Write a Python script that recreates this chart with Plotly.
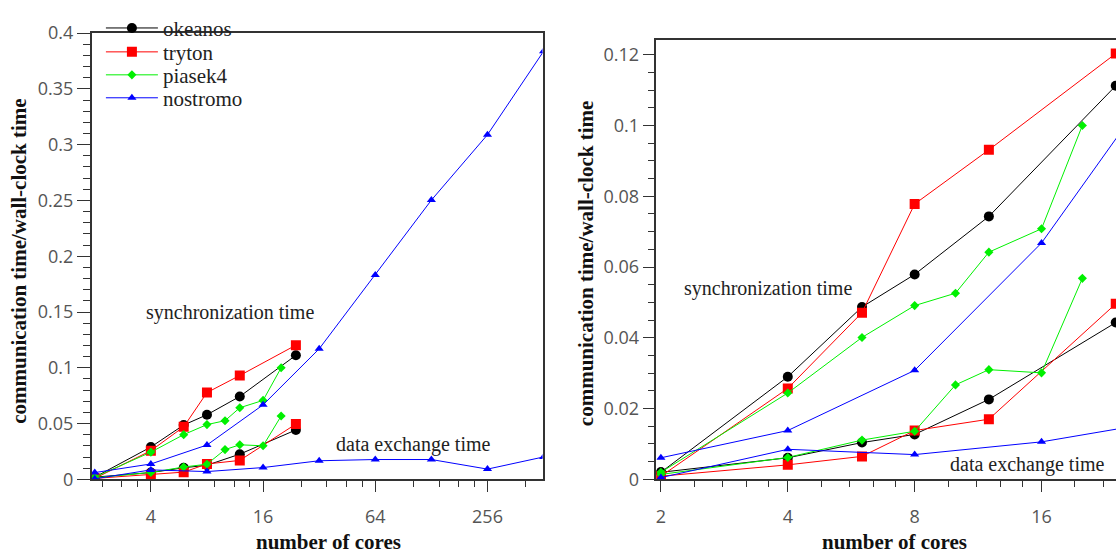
import math
import plotly.graph_objects as go

# ---- measured data: communication time / wall-clock time ----
okeanos_cores = [2, 4, 6, 8, 12, 24]
okeanos_sync = [0.0020, 0.0290, 0.0487, 0.0579, 0.0743, 0.1112]
okeanos_exch = [0.0020, 0.0061, 0.0104, 0.0127, 0.0226, 0.0443]

tryton_cores = [2, 4, 6, 8, 12, 24]
tryton_sync = [0.0009, 0.0257, 0.0471, 0.0778, 0.0931, 0.1203]
tryton_exch = [0.0009, 0.0041, 0.0065, 0.0138, 0.0170, 0.0496]

piasek4_cores = [2, 4, 6, 8, 10, 12, 16, 20]
piasek4_sync = [0.0020, 0.0244, 0.0401, 0.0491, 0.0526, 0.0642, 0.0708, 0.1000]
piasek4_exch = [0.0014, 0.0062, 0.0111, 0.0136, 0.0267, 0.0310, 0.0301, 0.0568]

nostromo_cores = [2, 4, 8, 16, 32, 64, 128, 256, 512]
nostromo_sync = [0.0061, 0.0138, 0.0308, 0.0668, 0.1170, 0.1831, 0.2503, 0.3089, 0.3837]
nostromo_exch = [0.0005, 0.0085, 0.0070, 0.0106, 0.0167, 0.0178, 0.0178, 0.0092, 0.0201]

left_xticks = [4, 16, 64, 256]
right_xticks = [2, 4, 8, 16]

machines = [
    ("okeanos", okeanos_cores, okeanos_sync, okeanos_exch, "#000000", "circle", 10),
    ("tryton", tryton_cores, tryton_sync, tryton_exch, "#ff0000", "square", 10),
    ("piasek4", piasek4_cores, piasek4_sync, piasek4_exch, "#00f000", "diamond", 7),
    ("nostromo", nostromo_cores, nostromo_sync, nostromo_exch, "#0000ff", "triangle-up", 8),
]

W, H = 1116, 554
SERIF = "Liberation Serif"
SANS = "Open Sans"


def px_x(p):
    return p / W


def px_y(p):
    return 1 - p / H


def minor_vals(majors, lo, hi):
    # five linear sub-steps between consecutive major ticks
    vals = []
    for a, b in zip(majors[:-1], majors[1:]):
        step = (b - a) / 5
        vals += [a + step * k for k in range(1, 5)]
    return [v for v in vals if lo < v < hi]


fig = go.Figure()

legend_names = ["legend", "legend2", "legend3", "legend4"]
for i, (name, cores, sync, exch, color, symbol, size) in enumerate(machines):
    for xa, ya in (("x", "y"), ("x2", "y2")):
        for k, vals in enumerate((sync, exch)):
            fig.add_trace(go.Scatter(
                x=cores, y=vals, xaxis=xa, yaxis=ya,
                mode="lines+markers", name=name,
                line=dict(color=color, width=1),
                marker=dict(symbol=symbol, size=size, color=color),
                showlegend=(xa == "x" and k == 0),
                legend=legend_names[i],
            ))

# axis ranges (log2 based, expressed in log10 for plotly)
l2 = math.log10(2)
left_range = [0.944 * l2, 8.981 * l2]
right_range = [0.9646 * l2, 4.587 * l2]

minor_style = dict(ticks="outside", tickcolor="#333333", tickwidth=1.2)
axis_common = dict(
    showgrid=False, zeroline=False, showline=True,
    linecolor="#333333", linewidth=1.5,
    ticks="outside", tickcolor="#333333", tickwidth=1.2,
    tickfont=dict(family=SANS, size=18, color="#555555"),
)

fig.update_layout(
    width=W, height=H,
    margin=dict(l=0, r=0, t=0, b=0),
    paper_bgcolor="white", plot_bgcolor="white",
    font=dict(family=SERIF, size=21, color="#222222"),
    xaxis=dict(
        domain=[px_x(90.7), px_x(542)], anchor="y", type="log",
        range=left_range, tickmode="array", tickvals=left_xticks,
        ticktext=[str(v) for v in left_xticks], ticklen=11, mirror=True,
        ticklabelstandoff=9,
        minor=dict(tickmode="array", tickvals=minor_vals([1] + left_xticks + [1024], 2 ** 0.944, 2 ** 8.981),
                   ticklen=6, **minor_style),
        **axis_common,
    ),
    yaxis=dict(
        domain=[px_y(487.5), px_y(21)], anchor="x",
        range=[0, 0.4], dtick=0.05, tick0=0, ticklen=13, mirror=True,
        minor=dict(dtick=0.01, ticklen=7, **minor_style),
        **axis_common,
    ),
    xaxis2=dict(
        domain=[px_x(656), 1.0], anchor="y2", type="log",
        range=right_range, tickmode="array", tickvals=right_xticks,
        ticktext=[str(v) for v in right_xticks], ticklen=11, mirror=True,
        ticklabelstandoff=9,
        minor=dict(tickmode="array", tickvals=minor_vals(right_xticks + [32], 2 ** 0.9646, 2 ** 4.587),
                   ticklen=6, **minor_style),
        **axis_common,
    ),
    yaxis2=dict(
        domain=[px_y(487.5), px_y(28)], anchor="x2",
        range=[0, 0.1242], dtick=0.02, tick0=0, ticklen=12, mirror=False,
        minor=dict(dtick=0.005, ticklen=7, **minor_style),
        **axis_common,
    ),
)

# one legend box per machine, stacked in the top-left corner of the left panel
legend_rows = [16, 41, 65, 89]
for lname, row in zip(legend_names, legend_rows):
    fig.layout[lname] = go.layout.Legend(
        x=px_x(100), y=px_y(row), xanchor="left", yanchor="middle",
        bgcolor="rgba(0,0,0,0)", borderwidth=0, itemwidth=52,
        font=go.layout.legend.Font(family=SERIF, size=21, color="#222222"),
    )

# text labels and axis titles
labels = [
    ("synchronization time", 143, 313),
    ("data exchange time", 333, 451),
    ("synchronization time", 682, 288),
    ("data exchange time", 948, 472),
]
for text, xp, yp in labels:
    fig.add_annotation(text=text, x=px_x(xp), y=px_y(yp), xref="paper", yref="paper",
                       xanchor="left", yanchor="middle", showarrow=False,
                       font=dict(family=SERIF, size=20, color="#222222"))

titles = [
    ("<b>number of cores</b>", 328, 553, 0),
    ("<b>number of cores</b>", 894, 553, 0),
    ("<b>communication time/wall-clock time</b>", 18, 259, -90),
    ("<b>communication time/wall-clock time</b>", 585, 262, -90),
]
for text, xp, yp, ang in titles:
    fig.add_annotation(text=text, x=px_x(xp), y=px_y(yp), xref="paper", yref="paper",
                       xanchor="center", yanchor="middle", showarrow=False, textangle=ang,
                       font=dict(family=SERIF, size=21, color="#111111"))

fig.write_html("out.html")
